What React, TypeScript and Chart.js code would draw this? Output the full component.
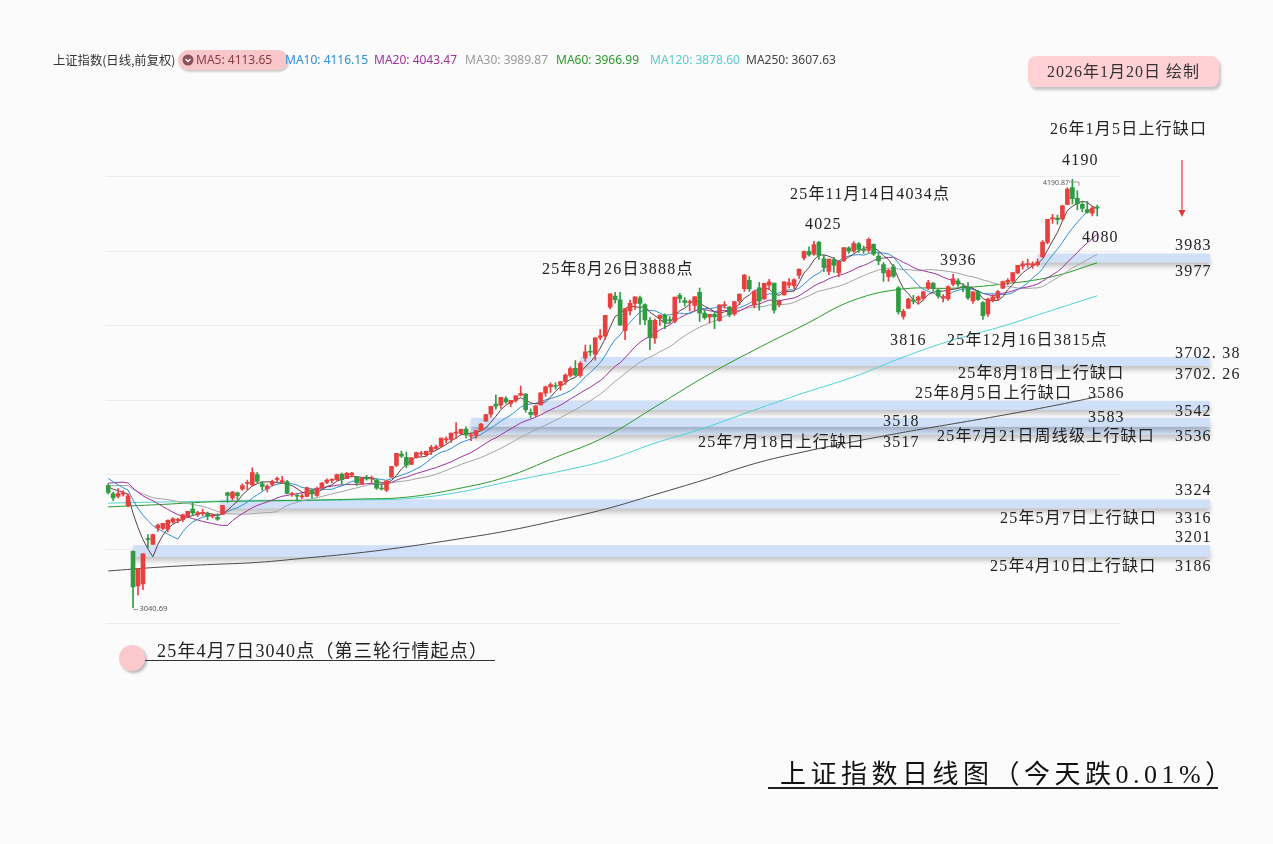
import React, { useEffect, useRef } from 'react';
import { Chart, registerables } from 'chart.js';
Chart.register(...registerables);

// ---------- DATA ----------
const dates = [
  '03-28','03-31','04-01','04-02','04-03',
  '04-07','04-08','04-09','04-10','04-11','04-14','04-15','04-16','04-17','04-18','04-21','04-22','04-23','04-24','04-25','04-28','04-29','04-30',
  '05-06','05-07','05-08','05-09','05-12','05-13','05-14','05-15','05-16','05-19','05-20','05-21','05-22','05-23','05-26','05-27','05-28','05-29','05-30',
  '06-03','06-04','06-05','06-06','06-09','06-10','06-11','06-12','06-13','06-16','06-17','06-18','06-19','06-20','06-23','06-24','06-25','06-26','06-27','06-30',
  '07-01','07-02','07-03','07-04','07-07','07-08','07-09','07-10','07-11','07-14','07-15','07-16','07-17','07-18','07-21','07-22','07-23','07-24','07-25','07-28','07-29','07-30','07-31',
  '08-01','08-04','08-05','08-06','08-07','08-08','08-11','08-12','08-13','08-14','08-15','08-18','08-19','08-20','08-21','08-22','08-25','08-26','08-27','08-28','08-29',
  '09-01','09-02','09-03','09-04','09-05','09-08','09-09','09-10','09-11','09-12','09-15','09-16','09-17','09-18','09-19','09-22','09-23','09-24','09-25','09-26','09-29','09-30',
  '10-09','10-10','10-13','10-14','10-15','10-16','10-17','10-20','10-21','10-22','10-23','10-24','10-27','10-28','10-29','10-30','10-31',
  '11-03','11-04','11-05','11-06','11-07','11-10','11-11','11-12','11-13','11-14','11-17','11-18','11-19','11-20','11-21','11-24','11-25','11-26','11-27','11-28',
  '12-01','12-02','12-03','12-04','12-05','12-08','12-09','12-10','12-11','12-12','12-15','12-16','12-17','12-18','12-19','12-22','12-23','12-24','12-25','12-26','12-29','12-30','12-31',
  '01-05','01-06','01-07','01-08','01-09','01-12','01-13','01-14','01-15','01-16','01-19','01-20'
];

const opens = [
  3369,3347,3340,3346,3315,
  3193,3100,3105,3225,3211,3255,3254,3252,3271,3276,3278,3287,3306,3292,3295,3293,3287,3284,
  3292,3350,3336,3350,3360,3375,3371,3399,3374,3361,3372,3386,3380,3380,3345,3343,3339,3340,3358,
  3343,3362,3378,3383,3385,3400,3388,3398,3391,3373,3388,3387,3384,3361,3357,3392,3423,3454,3445,3426,
  3445,3454,3452,3460,3469,3474,3492,3493,3510,3509,3521,3502,3504,3518,3542,3561,3588,3585,3603,3590,3598,3612,3615,
  3566,3559,3586,3617,3634,3637,3637,3649,3665,3684,3665,3712,3729,3722,3767,3771,3848,3878,3868,3785,3838,
  3858,3873,3855,3813,3765,3818,3827,3815,3810,3880,3866,3860,3853,3888,3832,3822,3829,3812,3852,3848,3830,3865,
  3898,3920,3855,3900,3870,3907,3913,3855,3881,3907,3906,3933,3980,3998,3990,4022,3978,
  3944,3976,3940,3973,4007,3998,4018,4003,4000,4017,3985,3962,3930,3956,3900,3823,3845,3868,3866,3872,
  3899,3912,3894,3872,3870,3910,3919,3902,3902,3865,3890,3860,3830,3866,3873,3899,3915,3918,3940,3958,3962,3960,3962,
  3983,4022,4085,4087,4085,4124,4169,4140,4124,4110,4100,4114
];
const highs = [
  3374,3352,3361,3356,3347,
  3194,3146,3186,3238,3239,3266,3268,3277,3283,3282,3293,3300,3322,3300,3306,3298,3293,3294,
  3316,3352,3354,3352,3374,3384,3417,3405,3380,3372,3384,3392,3394,3383,3351,3345,3347,3365,3358,
  3365,3378,3387,3387,3400,3403,3405,3405,3392,3391,3397,3395,3386,3373,3382,3421,3456,3462,3459,3445,
  3459,3461,3462,3477,3478,3497,3500,3510,3538,3521,3527,3510,3517,3536,3560,3582,3613,3606,3608,3598,3610,3636,3616,
  3575,3583,3618,3636,3645,3645,3648,3669,3688,3705,3702,3746,3746,3766,3788,3826,3884,3888,3888,3844,3867,
  3876,3878,3857,3820,3816,3827,3830,3823,3875,3885,3874,3868,3877,3899,3840,3829,3836,3854,3863,3850,3864,3883,
  3936,3930,3890,3915,3913,3923,3913,3868,3917,3925,3924,3950,3999,4010,4025,4025,3987,
  3977,3982,3973,4008,4010,4024,4022,4012,4034,4018,3996,3968,3950,3963,3903,3842,3872,3880,3878,3891,
  3920,3915,3897,3882,3905,3936,3925,3911,3914,3890,3893,3863,3872,3881,3893,3918,3925,3941,3960,3971,3977,3970,3977,
  4027,4084,4097,4095,4122,4168,4190.87,4160,4130,4132,4118,4122
];
const lows = [
  3347,3329,3336,3341,3312,
  3040.69,3076,3090,3201,3211,3246,3251,3245,3268,3269,3272,3285,3290,3286,3288,3278,3282,3276,
  3292,3324,3330,3332,3356,3358,3367,3376,3356,3352,3368,3379,3374,3347,3340,3328,3334,3339,3337,
  3340,3361,3374,3376,3383,3373,3388,3392,3369,3373,3384,3377,3359,3357,3353,3391,3420,3445,3417,3425,
  3443,3448,3448,3452,3466,3473,3483,3485,3496,3505,3497,3490,3496,3518,3542,3553,3574,3576,3590,3581,3593,3610,3566,
  3551,3554,3586,3609,3619,3628,3625,3641,3661,3663,3660,3702.38,3717,3706,3761,3762,3843,3859,3800,3761,3827,
  3842,3802,3801,3734,3751,3799,3790,3805,3806,3860,3851,3838,3838,3810,3815,3806,3790,3810,3845,3822,3826,3855,
  3890,3890,3846,3840,3869,3895,3832,3849,3880,3900,3898,3925,3975,3985,3987,3976,3943,
  3935,3941,3930,3970,3992,3995,3995,3992,3995,3987,3962,3917,3918,3928,3829,3816,3844,3857,3856,3866,
  3895,3891,3872,3862,3866,3905,3904,3889,3869,3858,3866,3815,3823,3862,3866,3898,3908,3915,3938,3950,3955,3952,3958,
  3983,4018,4073,4071,4081,4123,4125,4110,4104,4100,4093,4093
];
const closes = [
  3351,3336,3348,3350,3342,
  3097,3146,3186,3224,3238,3263,3268,3276,3280,3277,3291,3300,3296,3297,3295,3288,3287,3279,
  3316,3343,3352,3342,3369,3375,3404,3381,3367,3368,3380,3388,3381,3348,3347,3341,3340,3363,3347,
  3362,3376,3384,3385,3399,3385,3402,3403,3377,3389,3387,3389,3362,3360,3382,3421,3456,3448,3424,3444,
  3458,3455,3461,3472,3473,3497,3493,3510,3510,3520,3505,3504,3517,3534,3560,3582,3582,3606,3594,3598,3610,3616,3573,
  3560,3583,3618,3634,3640,3635,3648,3666,3683,3666,3697,3728,3727,3766,3771,3826,3884,3868,3800,3844,3858,
  3876,3858,3814,3766,3813,3827,3807,3812,3875,3871,3861,3862,3876,3832,3820,3829,3822,3854,3853,3828,3863,3883,
  3934,3897,3890,3865,3912,3916,3840,3864,3916,3914,3922,3950,3997,3988,4016,3987,3955,
  3977,3960,3969,4008,3998,4019,4003,4000,4030,3990,3972,3940,3947,3931,3835,3837,3870,3864,3875,3889,
  3914,3898,3878,3876,3903,3924,3910,3901,3873,3889,3868,3825,3870,3876,3890,3917,3920,3941,3960,3964,3965,3965,3969,
  4023,4084,4086,4083,4120,4165,4139,4126,4113,4102,4114,4113.65
];
// closes of the 30 sessions before the first drawn candle (for the short moving averages)
const priorCloses = [
  3346,3355,3324,3351,3350,3379,3373,3346,3380,3388,3320,3316,3324,3341,3381,
  3372,3366,3379,3371,3358,3419,3426,3429,3426,3408,3364,3370,3369,3368,3373
];

const slowMaIdx = [0,10,20,30,40,50,60,70,80,90,100,110,120,130,140,150,160,170,180,190,199];
const ma60Pts = [3312,3318,3325,3328,3330,3333,3338,3360,3392,3445,3500,3580,3661,3733,3800,3867,3897,3899,3910,3930,3967];
const ma120Pts = [3322,3325,3327,3328,3329,3331,3334,3350,3378,3405,3436,3483,3524,3572,3618,3661,3714,3760,3797,3840,3878.6];
const ma250Pts = [3140,3150,3157,3163,3175,3188,3205,3225,3247,3275,3306,3345,3385,3428,3460,3487,3512,3535,3558,3583,3607.63];

// up-gaps: [low, high], candle index where the band starts
const gapLows = [3186, 3316, 3517, 3536, 3583, 3702.26, 3977];
const gapHighs = [3201, 3324, 3518, 3542, 3586, 3702.38, 3983];
const gapStart = [5, 22.5, 73, 73, 87, 95, 187];
const gapEnd = 221.7;

const gridPrices = [3000, 3200, 3400, 3600, 3800, 4000, 4200];

const maNames = ['MA5', 'MA10', 'MA20', 'MA30', 'MA60', 'MA120', 'MA250'];
const maLegendValues = ['4113.65', '4116.15', '4043.47', '3989.87', '3966.99', '3878.60', '3607.63'];

// ---------- STYLE ----------
const UP = '#e8403f';
const DOWN = '#2f9c42';
const maColors = ['#5d4246', '#2e8fd6', '#a0309e', '#a3a3a3', '#2a9a2a', '#4fd3d3', '#4a4a4a'];
const legendColors = ['#8a3a44', '#2e8fd6', '#a0309e', '#999999', '#2a9a2a', '#5ccbcd', '#444444'];
const legendLeft = [196, 285, 374, 465, 556, 650, 746];

const SERIF = '"Liberation Serif", "Noto Sans CJK SC", serif';

const labels = [
  { t: '26年1月5日上行缺口', x: 1050, y: 129 },
  { t: '4190', x: 1062, y: 160 },
  { t: '25年11月14日4034点', x: 790, y: 194 },
  { t: '4025', x: 805, y: 224 },
  { t: '4080', x: 1082, y: 237 },
  { t: '3983', x: 1175, y: 245 },
  { t: '25年8月26日3888点', x: 542, y: 269 },
  { t: '3936', x: 940, y: 260 },
  { t: '3977', x: 1175, y: 271 },
  { t: '3816', x: 890, y: 340 },
  { t: '25年12月16日3815点', x: 947, y: 340 },
  { t: '3702. 38', x: 1175, y: 353 },
  { t: '25年8月18日上行缺口', x: 958, y: 373 },
  { t: '3702. 26', x: 1175, y: 374 },
  { t: '25年8月5日上行缺口', x: 915, y: 393 },
  { t: '3586', x: 1088, y: 393 },
  { t: '3542', x: 1175, y: 411 },
  { t: '3583', x: 1088, y: 417 },
  { t: '3518', x: 883, y: 421 },
  { t: '25年7月18日上行缺口', x: 698, y: 442 },
  { t: '3517', x: 883, y: 442 },
  { t: '25年7月21日周线级上行缺口', x: 937, y: 436 },
  { t: '3536', x: 1175, y: 436 },
  { t: '3324', x: 1175, y: 490 },
  { t: '25年5月7日上行缺口', x: 1000, y: 518 },
  { t: '3316', x: 1175, y: 518 },
  { t: '3201', x: 1175, y: 537 },
  { t: '25年4月10日上行缺口', x: 990, y: 566 },
  { t: '3186', x: 1175, y: 566 },
];

function movingAverage(n: number) {
  const all = priorCloses.concat(closes);
  const off = priorCloses.length;
  return closes.map((_, i) => {
    const j = i + off;
    let s = 0;
    for (let k = j - n + 1; k <= j; k++) s += all[k];
    return { x: i, y: s / n };
  });
}

const overlayPlugin = {
  id: 'overlay',
  beforeDatasetsDraw(chart: any) {
    const { ctx, chartArea } = chart;
    const xs = chart.scales.x;
    const ys = chart.scales.y;
    ctx.save();
    ctx.strokeStyle = '#ececec';
    ctx.lineWidth = 1;
    gridPrices.forEach((p) => {
      const py = Math.round(ys.getPixelForValue(p)) + 0.5;
      ctx.beginPath();
      ctx.moveTo(chartArea.left, py);
      ctx.lineTo(chartArea.right, py);
      ctx.stroke();
    });
    gapLows.forEach((lo, k) => {
      const yTop = ys.getPixelForValue(gapHighs[k]);
      const yBot = ys.getPixelForValue(lo);
      const c = (yTop + yBot) / 2;
      const h = Math.max(9, yBot - yTop + 6);
      const x0 = xs.getPixelForValue(gapStart[k]);
      const x1 = xs.getPixelForValue(gapEnd);
      ctx.save();
      ctx.shadowColor = 'rgba(0,0,0,0.22)';
      ctx.shadowBlur = 5;
      ctx.shadowOffsetY = 4;
      ctx.fillStyle = '#d0e0f8';
      ctx.fillRect(x0, c - h / 2, x1 - x0, h);
      ctx.restore();
    });
    ctx.restore();
  },
};

export default function App() {
  const ref = useRef<HTMLCanvasElement>(null);
  useEffect(() => {
    const colors = closes.map((c, i) => (c >= opens[i] ? UP : DOWN));
    const shortMa = [5, 10, 20, 30].map((n) => movingAverage(n));
    const slowMa = [ma60Pts, ma120Pts, ma250Pts].map((arr) => slowMaIdx.map((x, k) => ({ x, y: arr[k] })));
    const lineSets = shortMa.concat(slowMa).map((data, k) => ({
      type: 'line' as const,
      data,
      borderColor: maColors[k],
      borderWidth: 1,
      pointRadius: 0,
      tension: k >= 4 ? 0.4 : 0,
      order: 10 + k,
    }));
    const chart = new Chart(ref.current as HTMLCanvasElement, {
      type: 'bar',
      data: {
        datasets: [
          {
            type: 'bar',
            data: closes.map((c, i) => ({ x: i, y: [opens[i], c] })) as any,
            backgroundColor: colors,
            barThickness: 4,
            minBarLength: 1,
            grouped: false,
            order: 1,
          },
          {
            type: 'bar',
            data: lows.map((l, i) => ({ x: i, y: [l, highs[i]] })) as any,
            backgroundColor: colors,
            barThickness: 1,
            grouped: false,
            order: 2,
          },
          ...(lineSets as any[]),
        ],
      },
      options: {
        animation: false,
        responsive: false,
        devicePixelRatio: 1,
        events: [],
        layout: { padding: { left: 105.7, right: 152.9, top: 101.5, bottom: 183.6 } },
        plugins: { legend: { display: false }, tooltip: { enabled: false } },
        scales: {
          x: { type: 'linear', display: false, offset: false, min: -0.5, max: 203.6 },
          y: { type: 'linear', display: false, min: 2900, max: 4400 },
        },
      },
      plugins: [overlayPlugin],
    });
    return () => chart.destroy();
  }, []);

  const lbl = (t: string, x: number, y: number, size = 16, extra: any = {}) => (
    <div
      key={t + x + y}
      style={{
        position: 'absolute', left: x, top: y - 11, height: 22, lineHeight: '22px',
        fontFamily: SERIF, fontSize: size, letterSpacing: 1.2, color: '#222', whiteSpace: 'nowrap', ...extra,
      }}
    >
      {t}
    </div>
  );

  return (
    <div style={{ position: 'absolute', left: 0, top: 0, width: 1273, height: 844, background: '#fbfbfb', overflow: 'hidden' }}>
      <canvas ref={ref} width={1273} height={844} style={{ position: 'absolute', left: 0, top: 0 }} />

      {/* legend */}
      <div style={{ position: 'absolute', left: 53, top: 51, height: 18, lineHeight: '18px', fontFamily: '"Noto Sans CJK SC", "Noto Sans", sans-serif', fontSize: 12.3, color: '#333', whiteSpace: 'nowrap' }}>
        上证指数(日线,前复权)
      </div>
      <div style={{ position: 'absolute', left: 178, top: 50, width: 110, height: 20, borderRadius: 10, background: '#f7c7ca', boxShadow: '1px 2px 2px rgba(0,0,0,0.18)' }} />
      <svg style={{ position: 'absolute', left: 182, top: 54 }} width={12} height={12}>
        <circle cx={6} cy={6} r={5.5} fill="#8a4f57" />
        <polyline points="3.5,5 6,7.5 8.5,5" fill="none" stroke="#fff" strokeWidth={1.3} />
      </svg>
      {maNames.map((n, k) => (
        <div key={n} style={{ position: 'absolute', left: legendLeft[k], top: 51, height: 18, lineHeight: '18px', fontFamily: '"Noto Sans", sans-serif', fontSize: 12, color: legendColors[k], whiteSpace: 'nowrap' }}>
          {n}: {maLegendValues[k]}
        </div>
      ))}

      {/* date box */}
      <div style={{ position: 'absolute', left: 1028, top: 56, width: 191, height: 31, borderRadius: 8, background: '#ffd0d4', boxShadow: '2px 3px 3px rgba(0,0,0,0.22)', textAlign: 'center', lineHeight: '31px', fontFamily: SERIF, fontSize: 16, letterSpacing: 1, color: '#333' }}>
        2026年1月20日 绘制
      </div>

      {labels.map((l) => lbl(l.t, l.x, l.y))}

      {/* small price tags */}
      <div style={{ position: 'absolute', left: 132, top: 603, fontFamily: '"Noto Sans", sans-serif', fontSize: 7.5, color: '#555', lineHeight: '10px', whiteSpace: 'nowrap' }}>←3040.69</div>
      <div style={{ position: 'absolute', left: 1043, top: 178, fontFamily: '"Noto Sans", sans-serif', fontSize: 7, color: '#555', lineHeight: '10px', whiteSpace: 'nowrap' }}>4190.87</div>
      <svg style={{ position: 'absolute', left: 1068, top: 178 }} width={14} height={10}>
        <polyline points="1,4 11,4 11,8" fill="none" stroke="#888" strokeWidth={0.8} />
      </svg>

      {/* red arrow */}
      <svg style={{ position: 'absolute', left: 1176, top: 158 }} width={12} height={62}>
        <line x1={6} y1={2} x2={6} y2={54} stroke="#e23a3a" strokeWidth={1.2} />
        <polygon points="2.5,52 9.5,52 6,59" fill="#e23a3a" />
      </svg>

      {/* start marker */}
      <div style={{ position: 'absolute', left: 119, top: 645, width: 26, height: 26, borderRadius: 13, background: '#fbc9cd', boxShadow: '2px 2px 3px rgba(0,0,0,0.28)' }} />
      {lbl('25年4月7日3040点（第三轮行情起点）', 157, 651, 18)}
      <div style={{ position: 'absolute', left: 145, top: 660, width: 350, height: 1, background: '#333' }} />

      {/* title */}
      <div style={{ position: 'absolute', left: 780, top: 758, height: 34, lineHeight: '34px', fontFamily: SERIF, fontSize: 26, letterSpacing: 4.5, color: '#111', whiteSpace: 'nowrap' }}>
        上证指数日线图（今天跌0.01%）
      </div>
      <div style={{ position: 'absolute', left: 768, top: 787, width: 450, height: 1.5, background: '#222' }} />
    </div>
  );
}
